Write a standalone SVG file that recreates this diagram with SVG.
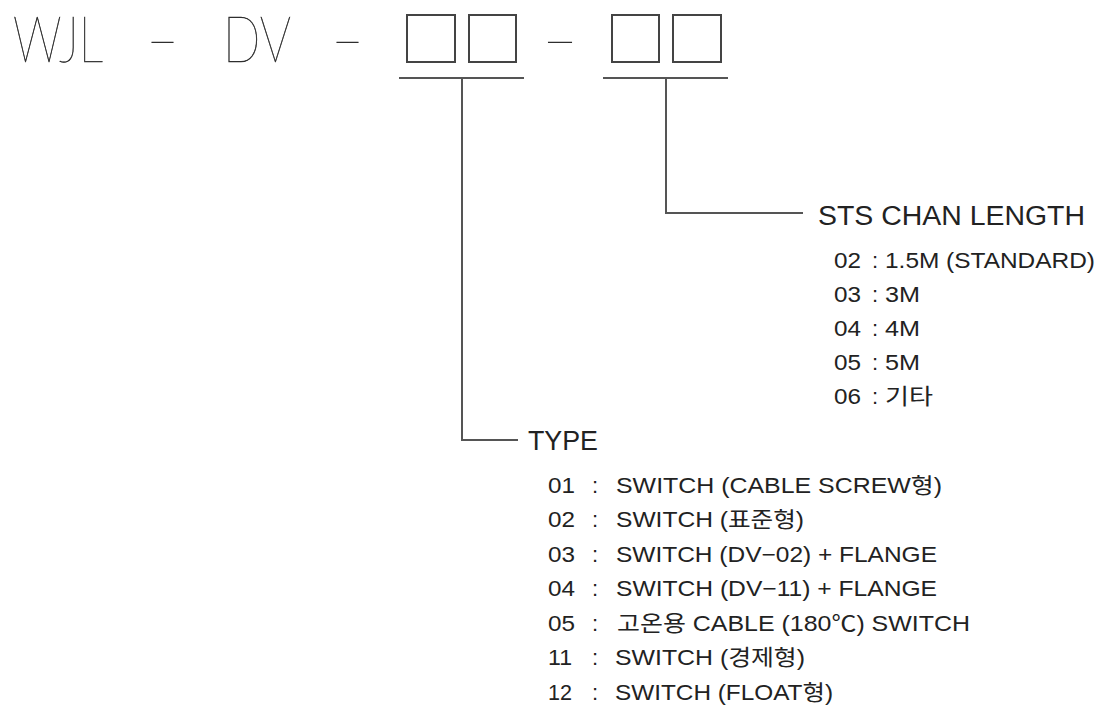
<svg xmlns="http://www.w3.org/2000/svg" width="1103" height="707" viewBox="0 0 1103 707">
<style>
.t{font-family:"Liberation Sans","Noto Sans CJK KR",sans-serif;fill:#222;}
.h{font-size:27px;}
.i{font-size:22px;}
.c{text-anchor:middle;}
.ttl{font-family:"Lato","Roboto","DejaVu Sans",sans-serif;font-weight:100;font-size:63px;fill:#2e2e2e;stroke:#2e2e2e;stroke-width:0.6;}
.box{fill:none;stroke:#444;stroke-width:2;}
.ln{fill:none;stroke:#555;stroke-width:2;}
</style>
<rect width="1103" height="707" fill="#ffffff"/>
<g id="title">
<text class="ttl" x="13" y="62" textLength="90" lengthAdjust="spacingAndGlyphs">WJL</text>
<text class="ttl" x="147" y="64" textLength="31" lengthAdjust="spacingAndGlyphs">−</text>
<text class="ttl" x="223" y="62" textLength="68" lengthAdjust="spacingAndGlyphs">DV</text>
<text class="ttl" x="332" y="64" textLength="31" lengthAdjust="spacingAndGlyphs">−</text>
<text class="ttl" x="543" y="64" textLength="34" lengthAdjust="spacingAndGlyphs">−</text>
</g>
<g id="code-type">
<rect class="box" x="407" y="15" width="48" height="47"/>
<rect class="box" x="469" y="15" width="47" height="47"/>
</g>
<g id="code-length">
<rect class="box" x="612" y="15" width="47" height="47"/>
<rect class="box" x="673" y="15" width="48" height="47"/>
</g>
<g id="connectors">
<path class="ln" d="M399,78 H524 M462,78 V440 H518"/>
<path class="ln" d="M603,78 H728 M666,78 V213 H803"/>
</g>
<g id="sts-chan-length">
<text class="t h" x="818" y="225" textLength="267" lengthAdjust="spacingAndGlyphs">STS CHAN LENGTH</text>
<text class="t i" y="268"><tspan x="834" textLength="27" lengthAdjust="spacingAndGlyphs">02</tspan><tspan class="c" x="875">:</tspan><tspan x="885" textLength="210" lengthAdjust="spacingAndGlyphs">1.5M (STANDARD)</tspan></text>
<text class="t i" y="302"><tspan x="834" textLength="27" lengthAdjust="spacingAndGlyphs">03</tspan><tspan class="c" x="875">:</tspan><tspan x="885" textLength="35" lengthAdjust="spacingAndGlyphs">3M</tspan></text>
<text class="t i" y="336"><tspan x="834" textLength="27" lengthAdjust="spacingAndGlyphs">04</tspan><tspan class="c" x="875">:</tspan><tspan x="885" textLength="35" lengthAdjust="spacingAndGlyphs">4M</tspan></text>
<text class="t i" y="370"><tspan x="834" textLength="27" lengthAdjust="spacingAndGlyphs">05</tspan><tspan class="c" x="875">:</tspan><tspan x="885" textLength="35" lengthAdjust="spacingAndGlyphs">5M</tspan></text>
<text class="t i" y="404"><tspan x="834" textLength="27" lengthAdjust="spacingAndGlyphs">06</tspan><tspan class="c" x="875">:</tspan><tspan x="885" textLength="48" lengthAdjust="spacingAndGlyphs">기타</tspan></text>
</g>
<g id="type">
<text class="t h" x="528" y="450" textLength="70" lengthAdjust="spacingAndGlyphs">TYPE</text>
<text class="t i" y="493"><tspan x="548" textLength="27" lengthAdjust="spacingAndGlyphs">01</tspan><tspan class="c" x="595">:</tspan><tspan x="616" textLength="326" lengthAdjust="spacingAndGlyphs">SWITCH (CABLE SCREW형)</tspan></text>
<text class="t i" y="527"><tspan x="548" textLength="27" lengthAdjust="spacingAndGlyphs">02</tspan><tspan class="c" x="595">:</tspan><tspan x="616" textLength="188" lengthAdjust="spacingAndGlyphs">SWITCH (표준형)</tspan></text>
<text class="t i" y="562"><tspan x="548" textLength="27" lengthAdjust="spacingAndGlyphs">03</tspan><tspan class="c" x="595">:</tspan><tspan x="616" textLength="321" lengthAdjust="spacingAndGlyphs">SWITCH (DV−02) + FLANGE</tspan></text>
<text class="t i" y="596"><tspan x="548" textLength="27" lengthAdjust="spacingAndGlyphs">04</tspan><tspan class="c" x="595">:</tspan><tspan x="616" textLength="321" lengthAdjust="spacingAndGlyphs">SWITCH (DV−11) + FLANGE</tspan></text>
<text class="t i" y="631"><tspan x="548" textLength="27" lengthAdjust="spacingAndGlyphs">05</tspan><tspan class="c" x="595">:</tspan><tspan x="617" textLength="353" lengthAdjust="spacingAndGlyphs">고온용 CABLE (180℃) SWITCH</tspan></text>
<text class="t i" y="665"><tspan x="548" textLength="24" lengthAdjust="spacingAndGlyphs">11</tspan><tspan class="c" x="595">:</tspan><tspan x="615" textLength="190" lengthAdjust="spacingAndGlyphs">SWITCH (경제형)</tspan></text>
<text class="t i" y="700"><tspan x="548" textLength="24" lengthAdjust="spacingAndGlyphs">12</tspan><tspan class="c" x="595">:</tspan><tspan x="615" textLength="218" lengthAdjust="spacingAndGlyphs">SWITCH (FLOAT형)</tspan></text>
</g>
</svg>
